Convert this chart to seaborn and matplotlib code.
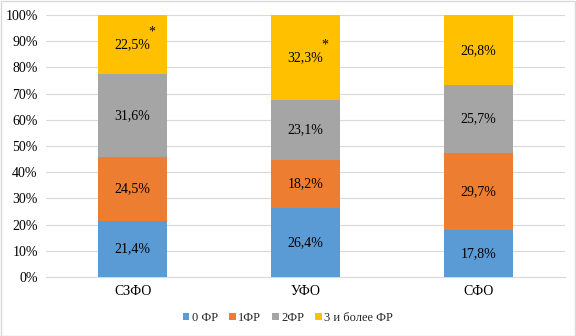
import numpy as np
import pandas as pd
import matplotlib
matplotlib.use("Agg")
import matplotlib.pyplot as plt
import seaborn as sns
from matplotlib.patches import Patch

categories = ["СЗФО", "УФО", "СФО"]
series_names = ["0 ФР", "1ФР", "2ФР", "3 и более ФР"]
v0 = [21.4, 26.4, 17.8]
v1 = [24.5, 18.2, 29.7]
v2 = [31.6, 23.1, 25.7]
v3 = [22.5, 32.3, 26.8]
asterisk = [True, True, False]
colors = ["#5B9BD5", "#ED7D31", "#A5A5A5", "#FFC000"]
yticks = list(range(0, 101, 10))

sns.set_style("white")
plt.rcParams["font.family"] = ["Liberation Serif", "DejaVu Serif"]

series = [v0, v1, v2, v3]
cum = np.cumsum(np.array(series), axis=0)

fig = plt.figure(figsize=(5.76, 3.36), dpi=100)
ax = fig.add_axes([0.08, 0.176, 0.901, 0.779])

for i in range(3, -1, -1):
    df = pd.DataFrame({"cat": categories, "val": cum[i]})
    sns.barplot(data=df, x="cat", y="val", color=colors[i], width=0.4,
                saturation=1, ax=ax, zorder=3, edgecolor="none")

for j, c in enumerate(categories):
    bottom = 0
    for i in range(4):
        v = series[i][j]
        mid = bottom + v / 2
        ax.text(j, mid, f"{v:.1f}%".replace(".", ","), ha="center", va="center",
                fontsize=10, color="#000000", zorder=5)
        if i == 3 and asterisk[j]:
            ax.text(j + 0.11, mid + 4.8, "*", ha="center", va="center",
                    fontsize=10, color="#000000", zorder=5)
        bottom += v

ax.set_ylim(0, 100)
ax.set_xlim(-0.5, 2.5)
ax.set_yticks(yticks)
ax.set_yticklabels([f"{t}%" for t in yticks])
ax.yaxis.grid(True, color="#D9D9D9", linewidth=0.8, zorder=0)
ax.set_axisbelow(True)
for s in ["top", "right", "left"]:
    ax.spines[s].set_visible(False)
ax.spines["bottom"].set_color("#D9D9D9")
ax.tick_params(axis="both", length=0, labelsize=10, colors="#000000", pad=6)
ax.set_xlabel("")
ax.set_ylabel("")

handles = [Patch(facecolor=c, edgecolor="none") for c in colors]
fig.legend(handles, series_names, loc="center", bbox_to_anchor=(0.5, 0.055),
           ncol=4, frameon=False, fontsize=9, handlelength=0.5, handleheight=0.5,
           handletextpad=0.2, columnspacing=0.9)

fig.patches.append(plt.Rectangle((0.001, 0.001), 0.997, 0.997, transform=fig.transFigure,
                                 fill=False, edgecolor="#D9D9D9", linewidth=1))

fig.savefig("out.png", dpi=100)
